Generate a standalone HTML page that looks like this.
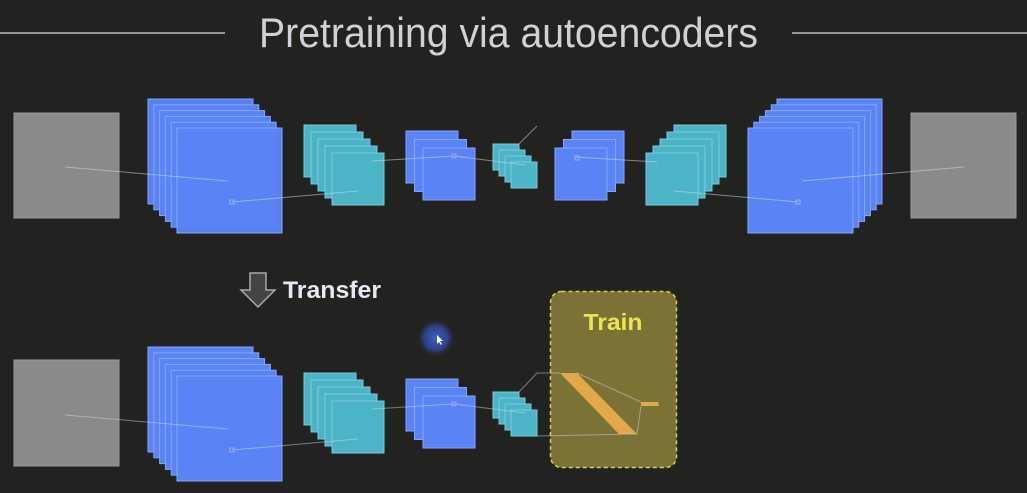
<!DOCTYPE html>
<html><head><meta charset="utf-8"><style>
html,body{margin:0;padding:0;background:#222221;}
svg{display:block}
</style></head><body>
<svg width="1027" height="493" viewBox="0 0 1027 493" xmlns="http://www.w3.org/2000/svg">
<defs>
<radialGradient id="g"><stop offset="0" stop-color="#3f5fc8"/><stop offset="0.6" stop-color="#33489a" stop-opacity="0.8"/><stop offset="1" stop-color="#222" stop-opacity="0"/></radialGradient>
</defs>
<rect width="1027" height="493" fill="#222221"/>
<line x1="0" y1="33" x2="225" y2="33" stroke="#bbb" stroke-width="1.5"/>
<line x1="792" y1="33" x2="1027" y2="33" stroke="#bbb" stroke-width="1.5"/>
<text x="259" y="47" font-family="Liberation Sans, sans-serif" font-size="42" fill="#d0d0d6" textLength="499" lengthAdjust="spacingAndGlyphs" font-weight="normal">Pretraining via autoencoders</text>

<g id="top">
<rect x="14" y="113" width="105" height="105" fill="#8a8a8a" stroke="#9a9a9a"/>
<g fill="#5a84f6" stroke="#86a4ff" stroke-width="1" fill-opacity="0.97">
<rect x="148" y="99" width="105" height="105"/><rect x="153.8" y="104.8" width="105" height="105"/><rect x="159.6" y="110.6" width="105" height="105"/><rect x="165.4" y="116.4" width="105" height="105"/><rect x="171.2" y="122.2" width="105" height="105"/><rect x="177" y="128" width="105" height="105"/>
</g>
<g fill="#4cb4c7" stroke="#7ccbd8" stroke-width="1">
<rect x="304" y="125" width="52" height="52"/><rect x="311" y="132" width="52" height="52"/><rect x="318" y="139" width="52" height="52"/><rect x="325" y="146" width="52" height="52"/><rect x="332" y="153" width="52" height="52"/>
</g>
<g fill="#5a84f6" stroke="#86a4ff" stroke-width="1">
<rect x="406" y="131" width="52" height="52"/><rect x="414.5" y="139.5" width="52" height="52"/><rect x="423" y="148" width="52" height="52"/>
</g>
<g fill="#4cb4c7" stroke="#7ccbd8" stroke-width="1">
<rect x="493" y="144" width="26" height="26"/><rect x="499" y="150" width="26" height="26"/><rect x="505" y="156" width="26" height="26"/><rect x="511" y="162" width="26" height="26"/>
</g>
<g fill="#5a84f6" stroke="#86a4ff" stroke-width="1">
<rect x="572" y="131" width="52" height="52"/><rect x="563.5" y="139.5" width="52" height="52"/><rect x="555" y="148" width="52" height="52"/>
</g>
<g fill="#4cb4c7" stroke="#7ccbd8" stroke-width="1">
<rect x="674" y="125" width="52" height="52"/><rect x="667" y="132" width="52" height="52"/><rect x="660" y="139" width="52" height="52"/><rect x="653" y="146" width="52" height="52"/><rect x="646" y="153" width="52" height="52"/>
</g>
<g fill="#5a84f6" stroke="#86a4ff" stroke-width="1">
<rect x="777" y="99" width="105" height="105"/><rect x="771.2" y="104.8" width="105" height="105"/><rect x="765.4" y="110.6" width="105" height="105"/><rect x="759.6" y="116.4" width="105" height="105"/><rect x="753.8" y="122.2" width="105" height="105"/><rect x="748" y="128" width="105" height="105"/>
</g>
<rect x="911" y="113" width="105" height="105" fill="#8a8a8a" stroke="#9a9a9a"/>
<g stroke="#cfd6e6" stroke-width="1" fill="none" opacity="0.55">
<line x1="65" y1="167" x2="228" y2="181"/>
<line x1="232" y1="202" x2="358" y2="191"/>
<line x1="372" y1="161" x2="454" y2="156"/>
<line x1="454" y1="156" x2="525" y2="165"/>
<line x1="519" y1="144" x2="537" y2="126"/>
<line x1="575" y1="157" x2="657" y2="162"/>
<line x1="674" y1="191" x2="798" y2="202"/>
<line x1="802" y1="181" x2="964" y2="167"/>
<rect x="230" y="200" width="4" height="4"/><rect x="452" y="154" width="4" height="4"/><rect x="575" y="156" width="4" height="4"/><rect x="796" y="200" width="4" height="4"/>
</g>
</g>

<!-- Transfer -->
<path d="M250 273 H266 V290 H275 L258 307 L241 290 H250 Z" fill="#444" stroke="#aaa" stroke-width="1.5"/>
<text x="283" y="298" font-family="Liberation Sans, sans-serif" font-weight="bold" font-size="24" fill="#e6e8f2" textLength="98" lengthAdjust="spacingAndGlyphs">Transfer</text>
<circle cx="436" cy="338" r="20" fill="url(#g)"/>
<path d="M437 335 L437 344 L439 342 L441 345 L442 344 L440 341 L443 341 Z" fill="#fff"/>

<g id="bottom">
<rect x="14" y="360" width="105" height="106" fill="#8a8a8a" stroke="#9a9a9a"/>
<g fill="#5a84f6" stroke="#86a4ff" stroke-width="1">
<rect x="148" y="347" width="105" height="105"/><rect x="153.8" y="352.8" width="105" height="105"/><rect x="159.6" y="358.6" width="105" height="105"/><rect x="165.4" y="364.4" width="105" height="105"/><rect x="171.2" y="370.2" width="105" height="105"/><rect x="177" y="376" width="105" height="105"/>
</g>
<g fill="#4cb4c7" stroke="#7ccbd8" stroke-width="1">
<rect x="304" y="373" width="52" height="52"/><rect x="311" y="380" width="52" height="52"/><rect x="318" y="387" width="52" height="52"/><rect x="325" y="394" width="52" height="52"/><rect x="332" y="401" width="52" height="52"/>
</g>
<g fill="#5a84f6" stroke="#86a4ff" stroke-width="1">
<rect x="406" y="379" width="52" height="52"/><rect x="414.5" y="387.5" width="52" height="52"/><rect x="423" y="396" width="52" height="52"/>
</g>
<g fill="#4cb4c7" stroke="#7ccbd8" stroke-width="1">
<rect x="493" y="392" width="26" height="26"/><rect x="499" y="398" width="26" height="26"/><rect x="505" y="404" width="26" height="26"/><rect x="511" y="410" width="26" height="26"/>
</g>
<rect x="550.5" y="291.5" width="126" height="176" rx="11" fill="#7b7236" stroke="#d9cf4a" stroke-width="1.5" stroke-dasharray="4,3"/>
<text x="613" y="330" text-anchor="middle" font-family="Liberation Sans, sans-serif" font-weight="bold" font-size="23" fill="#ece552" textLength="59" lengthAdjust="spacingAndGlyphs">Train</text>
<polygon points="560,373 577,373 637,434 619,434" fill="#e2a84a"/>
<polygon points="641,402 658,402 659,406 641,406" fill="#e2a84a"/>
<g stroke="#cfd6e6" stroke-width="1" fill="none" opacity="0.5">
<line x1="65" y1="415" x2="228" y2="429"/>
<line x1="232" y1="450" x2="358" y2="439"/>
<line x1="372" y1="409" x2="454" y2="404"/>
<line x1="454" y1="404" x2="525" y2="413"/>
<polyline points="519,392 537,373 560,373"/>
<line x1="577" y1="373" x2="641" y2="402"/>
<polyline points="537,436 637,434 641,406"/>
<rect x="230" y="448" width="4" height="4"/><rect x="452" y="402" width="4" height="4"/>
</g>
</g>
</svg>
</body></html>
